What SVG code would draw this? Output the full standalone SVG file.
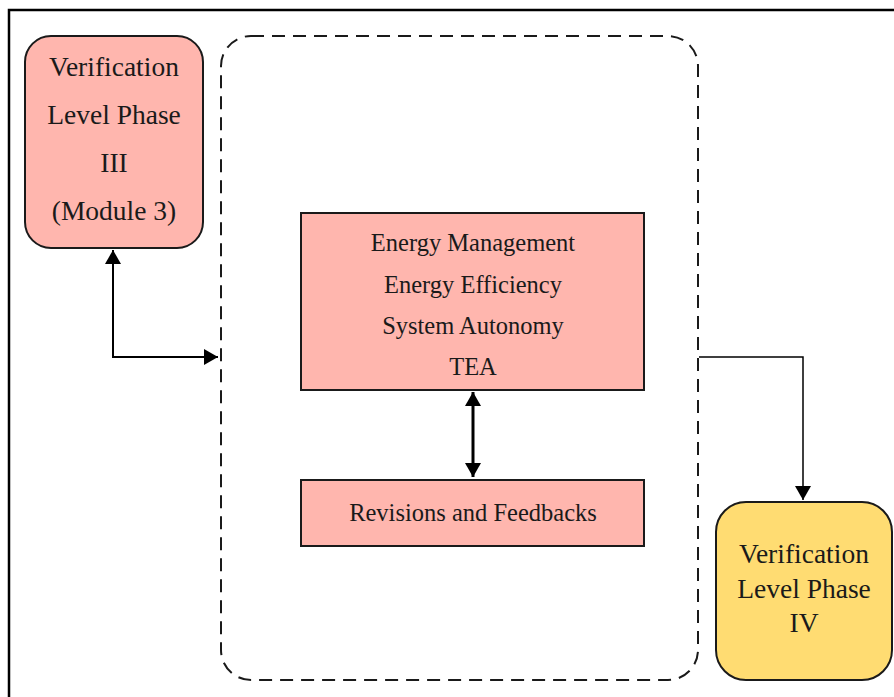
<svg xmlns="http://www.w3.org/2000/svg" width="894" height="697" viewBox="0 0 894 697">
<style>
.t{font-family:"Liberation Serif","DejaVu Serif",serif;fill:#1a1a1a;text-anchor:middle;dominant-baseline:central}
.big{font-size:27.5px}
.mid{font-size:24.5px}
.node{fill:#FFB6AE;stroke:#1a1a1a;stroke-width:2}
.conn{fill:none;stroke:#000}
</style>
<defs>
<marker id="ah" viewBox="0 0 10 10" refX="10" refY="5" markerWidth="10" markerHeight="10" markerUnits="userSpaceOnUse" orient="auto-start-reverse">
<path d="M0,0 L10,5 L0,10 z" fill="#000"/>
</marker>
<marker id="ahb" viewBox="0 0 10 10" refX="10" refY="5" markerWidth="14" markerHeight="16" markerUnits="userSpaceOnUse" orient="auto-start-reverse" preserveAspectRatio="none">
<path d="M0,0 L10,5 L0,10 z" fill="#000"/>
</marker>
</defs>
<rect x="0" y="0" width="894" height="697" fill="#fff"/>
<rect x="9" y="10" width="900" height="700" fill="none" stroke="#000" stroke-width="2.5"/>
<g id="container">
<rect x="221" y="36" width="477" height="644" rx="30" ry="30" fill="none" stroke="#1a1a1a" stroke-width="2" stroke-dasharray="13,8"/>
</g>
<g id="phase3">
<rect x="25" y="36" width="178" height="212" rx="26" ry="26" class="node"/>
<text class="t big" x="114" y="66">Verification</text>
<text class="t big" x="114" y="114">Level Phase</text>
<text class="t big" x="114" y="162">III</text>
<text class="t big" x="114" y="210">(Module 3)</text>
</g>
<g id="topics">
<rect x="301" y="213" width="343" height="177" class="node"/>
<text class="t mid" x="473" y="242">Energy Management</text>
<text class="t mid" x="473" y="284">Energy Efficiency</text>
<text class="t mid" x="473" y="325">System Autonomy</text>
<text class="t mid" x="473" y="366">TEA</text>
</g>
<g id="revisions">
<rect x="301" y="480" width="343" height="66" class="node"/>
<text class="t mid" x="473" y="512">Revisions and Feedbacks</text>
</g>
<g id="phase4">
<rect x="716" y="502" width="176" height="178" rx="30" ry="30" fill="#FFDC72" stroke="#1a1a1a" stroke-width="2"/>
<text class="t big" x="804" y="553">Verification</text>
<text class="t big" x="804" y="588">Level Phase</text>
<text class="t big" x="804" y="622">IV</text>
</g>
<g id="connectors">
<path class="conn" stroke-width="2" d="M113,250 L113,357 L218,357" marker-start="url(#ahb)" marker-end="url(#ahb)"/>
<path class="conn" stroke-width="3" d="M473,392 L473,477" marker-start="url(#ahb)" marker-end="url(#ahb)"/>
<path class="conn" stroke-width="1.5" d="M699,357 L803,357 L803,500" marker-end="url(#ahb)"/>
</g>
</svg>
